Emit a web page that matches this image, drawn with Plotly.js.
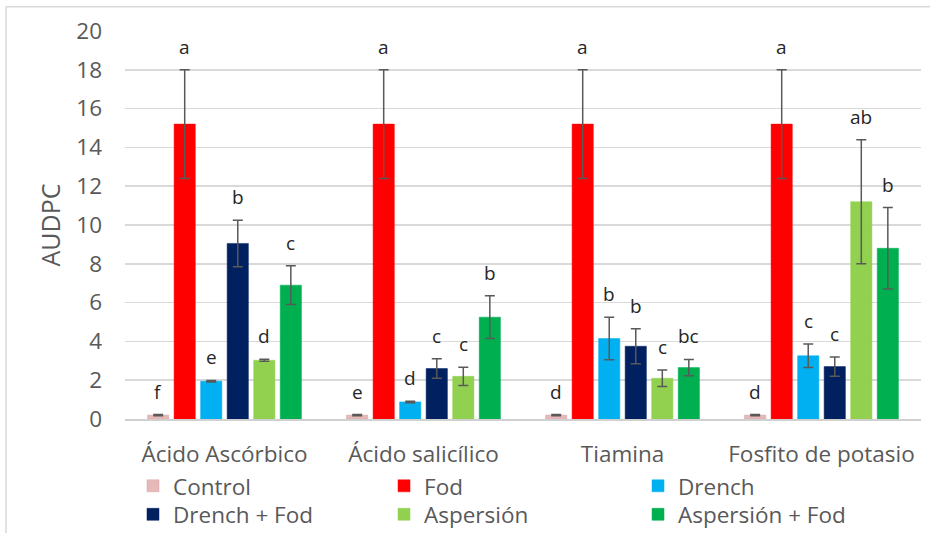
<!DOCTYPE html>
<html>
<head>
<meta charset="utf-8">
<script src="https://cdn.plot.ly/plotly-3.0.1.min.js"></script>
<style>html,body{margin:0;padding:0;background:#fff;}#chart{width:930px;height:533px;}</style>
</head>
<body>
<div id="chart"></div>
<script>
// ---- data ----
var categories = ['Ácido Ascórbico', 'Ácido salicílico', 'Tiamina', 'Fosfito de potasio'];
var seriesNames = ['Control', 'Fod', 'Drench', 'Drench + Fod', 'Aspersión', 'Aspersión + Fod'];
var control      = [0.2, 0.2, 0.2, 0.2];
var controlErr   = [0.03, 0.03, 0.03, 0.03];
var fod          = [15.2, 15.2, 15.2, 15.2];
var fodErr       = [2.8, 2.8, 2.8, 2.8];
var drench       = [1.95, 0.88, 4.15, 3.26];
var drenchErr    = [0.04, 0.04, 1.1, 0.6];
var drenchFod    = [9.05, 2.6, 3.75, 2.7];
var drenchFodErr = [1.2, 0.5, 0.9, 0.5];
var asp          = [3.03, 2.2, 2.1, 11.2];
var aspErr       = [0.05, 0.47, 0.42, 3.2];
var aspFod       = [6.9, 5.25, 2.65, 8.8];
var aspFodErr    = [1.0, 1.1, 0.42, 2.1];
var controlLetters   = ['f', 'e', 'd', 'd'];
var fodLetters       = ['a', 'a', 'a', 'a'];
var drenchLetters    = ['e', 'd', 'b', 'c'];
var drenchFodLetters = ['b', 'c', 'b', 'c'];
var aspLetters       = ['d', 'c', 'c', 'ab'];
var aspFodLetters    = ['c', 'b', 'bc', 'b'];
var yTicks = [0, 2, 4, 6, 8, 10, 12, 14, 16, 18, 20];

// ---- styling ----
var colors = ['#E6B9B8', '#FF0000', '#00B0F0', '#002060', '#92D050', '#00B050'];
var values = [control, fod, drench, drenchFod, asp, aspFod];
var errs = [controlErr, fodErr, drenchErr, drenchFodErr, aspErr, aspFodErr];
var letters = [controlLetters, fodLetters, drenchLetters, drenchFodLetters, aspLetters, aspFodLetters];
var FONT = '"Open Sans", Lato, sans-serif';
var TXT = 22.5;
var bargap = 0.2;

// legend grid: 3 columns x 2 rows (one legend per entry)
var legendColX = [0.01005, 0.3254, 0.6445];
var legendRowY = [-0.1732, -0.2466];

var traces = values.map(function (v, j) {
  return {
    type: 'bar',
    name: seriesNames[j],
    x: categories,
    y: v,
    legend: j === 0 ? 'legend' : 'legend' + (j + 1),
    marker: {color: colors[j], line: {color: j === 0 ? '#D9A3A2' : colors[j], width: 0.5}},
    error_y: {type: 'data', array: errs[j], visible: true, color: '#595959', thickness: 1.5, width: 5},
    hoverinfo: 'x+y+name'
  };
});

var annotations = [];
var slot = (1 - bargap) / values.length;
values.forEach(function (v, j) {
  v.forEach(function (val, i) {
    annotations.push({
      x: i - (1 - bargap) / 2 + (j + 0.5) * slot,
      y: val + errs[j][i],
      xref: 'x', yref: 'y',
      text: letters[j][i],
      showarrow: false,
      yanchor: 'bottom',
      yshift: 8,
      font: {family: FONT, size: 19, color: '#262626'}
    });
  });
});

var layout = {
  width: 930, height: 533,
  margin: {l: 125, r: 9, t: 31, b: 114, autoexpand: false},
  paper_bgcolor: '#ffffff', plot_bgcolor: '#ffffff',
  barmode: 'group', bargap: bargap, bargroupgap: 0.2,
  font: {family: FONT, size: TXT, color: '#595959'},
  xaxis: {
    type: 'category',
    showgrid: false, zeroline: false,
    showline: true, linecolor: '#D0D0D0', linewidth: 1.5,
    ticks: '', ticklabelstandoff: 14,
    tickfont: {family: FONT, size: TXT, color: '#595959'}
  },
  yaxis: {
    range: [0, 20], tickvals: yTicks,
    showgrid: true, gridcolor: '#D9D9D9', gridwidth: 1.5,
    zeroline: false, showline: false, ticks: '',
    ticklabelstandoff: 22,
    tickfont: {family: FONT, size: TXT, color: '#595959'},
    title: {text: 'AUDPC', font: {family: FONT, size: 25, color: '#595959'}, standoff: 8}
  },
  shapes: [
    {type: 'line', xref: 'paper', yref: 'paper', x0: -0.1495, x1: 1.03, y0: 1.0626, y1: 1.0626, line: {color: '#D9D9D9', width: 1.5}},
    {type: 'line', xref: 'paper', yref: 'paper', x0: -0.1495, x1: -0.1495, y0: 1.0626, y1: -0.4, line: {color: '#D9D9D9', width: 1.5}}
  ],
  annotations: annotations,
  showlegend: true
};

seriesNames.forEach(function (n, j) {
  var key = j === 0 ? 'legend' : 'legend' + (j + 1);
  layout[key] = {
    orientation: 'v', x: legendColX[j % 3], xanchor: 'left',
    y: legendRowY[Math.floor(j / 3)], yanchor: 'middle',
    font: {family: FONT, size: TXT, color: '#595959'}, bgcolor: 'rgba(0,0,0,0)',
    itemclick: false, itemdoubleclick: false
  };
});

Plotly.newPlot('chart', traces, layout, {displayModeBar: false, staticPlot: true});
</script>
</body>
</html>
